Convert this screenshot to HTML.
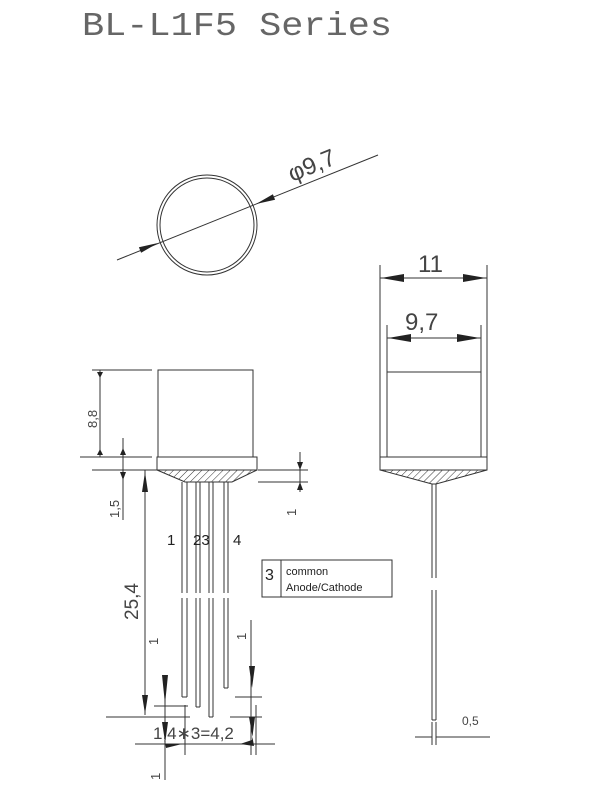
<!DOCTYPE html>
<html><head><meta charset="utf-8"><style>body{margin:0;background:#fff}svg{display:block}</style></head><body>
<svg width="600" height="800" viewBox="0 0 600 800" xmlns="http://www.w3.org/2000/svg" font-family="Liberation Sans, sans-serif">
<defs>
<pattern id="h" width="5" height="5" patternUnits="userSpaceOnUse" patternTransform="rotate(45)"><line x1="0" y1="0" x2="0" y2="5" stroke="#333" stroke-width="1"/></pattern>
</defs>
<text x="82" y="35" font-size="33" font-family="Liberation Mono, monospace" fill="#666" textLength="310" lengthAdjust="spacingAndGlyphs">BL-L1F5 Series</text>
<g stroke="#333" fill="none" stroke-width="1">
<circle cx="207" cy="225" r="50"/>
<circle cx="207" cy="225" r="47"/>
<line x1="117" y1="260" x2="378" y2="155"/>
</g>
<polygon points="158,243 141.1,252.8 138.9,247.2" fill="#222"/>
<polygon points="256,204 275.1,199.8 272.9,194.2" fill="#222"/>
<text x="0" y="0" font-size="24" fill="#444" transform="translate(292,182) rotate(-22)">φ9,7</text>

<g stroke="#333" fill="none" stroke-width="1">
<rect x="158" y="370" width="95" height="87"/>
<rect x="157" y="457" width="100" height="13"/>
<polygon points="157,470 257,470 232,482 185,482" fill="url(#h)"/>
<path d="M182,482V593M187,482V593M182,598V697M187,598V697M182,697H187"/>
<path d="M196,482V593M200,482V593M196,598V707M200,598V707M196,707H200"/>
<path d="M209,482V593M213,482V593M209,598V717M213,598V717M209,717H213"/>
<path d="M224,482V593M228,482V593M224,598V688M228,598V688M224,688H228"/>
<path d="M92,370H152M80,457H152M92,470H157M100,370V457M123,438V520M145,470V715"/>
<path d="M258,470H308M258,482H308M300,452V492"/>
<path d="M106,717H190M154,706H188M135,744H275M165,690V780M185,705V755M165,712V720M256,705V755M235,697H262M230,717H262M251,620V755"/>
</g>
<polygon points="97,372 103,372 100,378" fill="#222"/>
<polygon points="97,455 103,455 100,449" fill="#222"/>
<polygon points="120,455 126,455 123,448" fill="#222"/>
<polygon points="120,472 126,472 123,480" fill="#222"/>
<polygon points="142,492 148,492 145,472" fill="#222"/>
<polygon points="142,695 148,695 145,714" fill="#222"/>
<polygon points="162,675 168,675 165,704" fill="#222"/>
<polygon points="162,722 168,722 165,744 182,744 166,748" fill="#222"/>
<polygon points="249,666 255,666 252,688" fill="#222"/>
<polygon points="249,717 255,717 252,740 240,744 254,746" fill="#222"/>
<polygon points="297,462 303,462 300,470" fill="#222"/>
<polygon points="297,490 303,490 300,482" fill="#222"/>
<text font-size="13" fill="#444" transform="translate(97,428) rotate(-90)">8,8</text>
<text font-size="13" fill="#444" transform="translate(119,518) rotate(-90)">1,5</text>
<text font-size="13" fill="#444" transform="translate(296,516) rotate(-90)">1</text>
<text font-size="19" fill="#444" transform="translate(138,620) rotate(-90)">25,4</text>
<text font-size="13" fill="#444" transform="translate(158,645) rotate(-90)">1</text>
<text font-size="13" fill="#444" transform="translate(246,640) rotate(-90)">1</text>
<text font-size="13" fill="#444" transform="translate(160,780) rotate(-90)">1</text>
<text x="167" y="545" font-size="15" fill="#222">1</text>
<text x="193" y="545" font-size="15" fill="#222">23</text>
<text x="233" y="545" font-size="15" fill="#222">4</text>
<text x="153" y="739" font-size="17" fill="#444">1,4∗3=4,2</text>
<g stroke="#333" fill="none"><rect x="262" y="560" width="130" height="37"/><line x1="281" y1="560" x2="281" y2="597"/></g>
<text x="265" y="580" font-size="16" fill="#222">3</text>
<text x="286" y="575" font-size="11" fill="#222">common</text>
<text x="286" y="591" font-size="11" fill="#222">Anode/Cathode</text>

<g stroke="#333" fill="none" stroke-width="1">
<path d="M380,265V457M487,265V457M387,325V372M481,325V372M380,278H487M387,338H481"/>
<rect x="387" y="372" width="94" height="85"/>
<rect x="380" y="457" width="107" height="13"/>
<polygon points="380,470 487,470 436,484 432,484" fill="url(#h)"/>
<path d="M432,484V578M436,484V578M432,590V720M436,590V720M432,720H436"/>
<path d="M432,722V745M436,722V745M415,737H432M436,737H490"/>
</g>
<polygon points="381,278 404,274 404,282" fill="#222"/>
<polygon points="486,278 463,274 463,282" fill="#222"/>
<polygon points="388,338 411,334 411,342" fill="#222"/>
<polygon points="480,338 457,334 457,342" fill="#222"/>
<text x="418" y="272" font-size="24" fill="#444">11</text>
<text x="405" y="330" font-size="24" fill="#444">9,7</text>
<text x="462" y="725" font-size="12" fill="#444">0,5</text>
</svg>
</body></html>
